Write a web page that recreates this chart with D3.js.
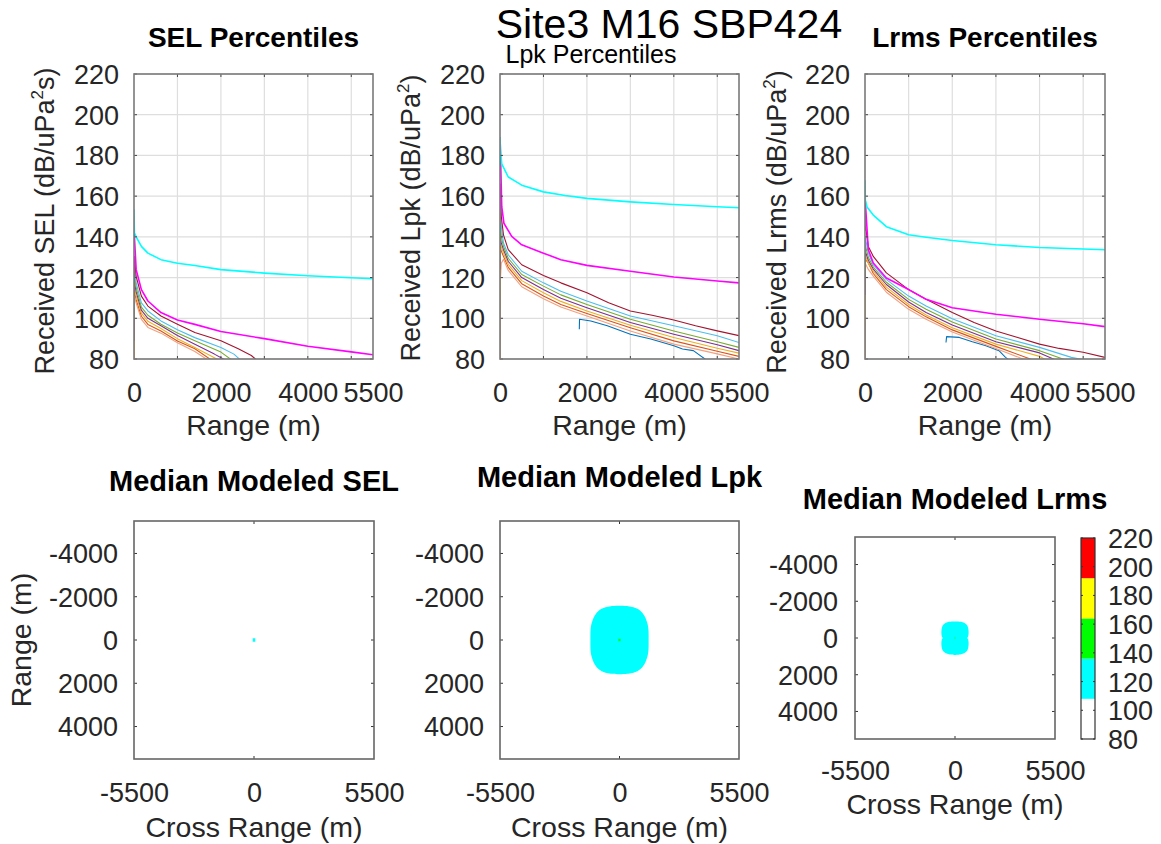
<!DOCTYPE html>
<html><head><meta charset="utf-8">
<script src="https://cdn.jsdelivr.net/npm/d3@7"></script>
<style>body{margin:0;background:#fff;} svg{display:block;}</style>
</head><body>
<script>
// ---------------- DATA ----------------
const rangeLabelTicks = [0, 2000, 4000, 5500];
const rangeGridTicks = [1000, 2000, 3000, 4000, 5000];
const levelTicks = [80, 100, 120, 140, 160, 180, 200, 220];
const crossTicks = [-5500, 0, 5500];
const mapRangeTicks = [-4000, -2000, 0, 2000, 4000];
const colorbarTicks = [80, 100, 120, 140, 160, 180, 200, 220];
const colorbarEdges = [80, 108, 136, 164, 192, 220];
const colorbarColors = ["#ffffff", "#00ffff", "#00ff00", "#ffff00", "#ff0000"];

const seriesNames = ["blue", "orange", "salmon", "yellow", "purple", "green", "lightblue", "darkred", "magenta", "cyan"];
const seriesColors = ["#0072bd", "#d95319", "#f2a07e", "#edb120", "#7e2f8e", "#77ac30", "#4dbeee", "#a2142f", "#ff00ff", "#00ffff"];

// SEL percentiles  [range m, dB]
const selBlue = [];
const selOrange = [[0,76],[8,113],[50,109],[170,101],[320,97],[620,93.8],[1000,88.8],[1400,85],[1780,79.5]];
const selSalmon = [[0,76],[8,111],[50,107.5],[170,99.5],[320,95.5],[620,92.7],[1000,88],[1400,83.7],[1700,79.5]];
const selYellow = [[0,80],[8,115],[50,111],[170,102.5],[320,98.5],[620,95],[1000,90],[1400,85.7],[1950,79.5]];
const selPurple = [[0,89],[8,118],[50,113],[170,104],[320,100],[620,96.3],[1000,91.5],[1400,87.3],[1850,82.4],[2100,79.5]];
const selGreen = [[0,99.5],[8,122],[50,115],[170,105.5],[320,101.5],[620,97.1],[1000,92.8],[1400,89],[2000,83.4],[2250,79.5]];
const selLightBlue = [[0,105],[8,126],[50,117.4],[170,107.6],[320,103.6],[620,98.7],[1000,94.4],[1400,90.5],[2000,85.7],[2300,82.4],[2450,79.5]];
const selDarkRed = [[0,111],[8,130.4],[50,120.6],[170,110.9],[320,106],[620,101.1],[1000,97.1],[1400,93],[2000,89],[2400,85],[2700,81.7],[2820,79.5]];
const selMagenta = [[0,143.7],[50,123.9],[170,114.1],[320,108.5],[620,102.8],[1000,99.2],[1400,97],[2000,93.5],[3000,90],[4000,86.3],[5000,83.5],[5500,82.1]];
const selCyan = [[0,153.5],[10,142],[50,140],[170,135.3],[320,132],[620,128.8],[1000,127],[1400,125.9],[2000,123.9],[3000,122.2],[4000,120.9],[5000,119.9],[5500,119.4]];

// Lpk percentiles
const lpkBlue = [[1825,94.6],[1830,99.5],[2090,98.7],[2470,96.3],[3000,92.2],[3470,89.8],[4000,86.5],[4200,84.9],[4450,84.1],[4750,79.5]];
const lpkOrange = [[0,79],[5,135],[30,133],[80,130.4],[190,125],[500,117],[1000,110.9],[1400,106.8],[2000,102.4],[3000,95.4],[4000,88.9],[5000,83.8],[5500,81.3]];
const lpkSalmon = [[0,79.5],[5,117],[30,127],[80,129],[190,123.5],[500,115.5],[1000,109.6],[1400,105.5],[2000,101.1],[3000,93.8],[4000,87.3],[5000,82.5],[5500,80]];
const lpkYellow = [[0,105.7],[5,137],[30,135],[80,132],[190,126.5],[500,118.5],[1000,112.5],[1400,108.3],[2000,103.6],[3000,96.6],[4000,90.6],[5000,85.3],[5500,82.9]];
const lpkPurple = [[0,124],[5,140],[30,137],[80,133.7],[190,128],[500,120],[1000,114.1],[1400,109.8],[2000,105.2],[3000,97.9],[4000,92.2],[5000,87],[5500,84.1]];
const lpkGreen = [[0,129.5],[5,148],[30,140],[80,135.3],[190,129.5],[500,121.5],[1000,115.8],[1400,111.5],[2000,106.8],[3000,99.5],[4000,93.8],[5000,88.5],[5500,85.7]];
const lpkLightBlue = [[0,148],[5,158],[30,145],[80,137],[190,131.2],[500,123.1],[1000,117.4],[1400,113.3],[2000,108.5],[3000,101.1],[4000,96.3],[5000,91.4],[5500,88.1]];
const lpkDarkRed = [[0,160],[5,166],[30,150],[80,141],[190,133.7],[500,126.3],[1000,121],[1400,117.4],[2000,112.5],[2500,107.6],[3000,103.6],[3500,101.5],[4000,99.2],[4500,96.3],[5000,93.8],[5500,91.5]];
const lpkMagenta = [[0,178],[5,186],[40,154.8],[90,146.7],[270,140.2],[500,136.1],[1000,132],[1400,128.8],[2000,126],[3000,123.1],[4000,120.3],[5000,118.3],[5500,117.4]];
const lpkCyan = [[0,189],[10,183],[40,175.9],[190,169.4],[500,165.4],[1000,162.1],[1500,160.3],[2000,158.9],[3000,157.2],[4000,155.9],[5000,154.8],[5500,154.3]];

// Lrms percentiles
const lrmsBlue = [[1856,88.1],[1870,91],[2160,90.6],[2460,88.5],[2770,86.5],[3070,84.1],[3220,80.8],[3300,79.5]];
const lrmsOrange = [[0,79],[5,129],[76,127.2],[190,122],[490,114.1],[1000,105.7],[1400,100.7],[2000,94.3],[3000,86.2],[3850,79.5]];
const lrmsSalmon = [[0,98],[5,127],[76,124],[190,120.7],[490,112.8],[1000,104.4],[1400,99.5],[2000,93.3],[3000,85.2],[3680,79.5]];
const lrmsYellow = [[0,97.7],[5,131],[76,127],[190,123.1],[490,115.3],[1000,106.8],[1400,101.6],[2000,95.4],[3000,87.3],[4000,81.3],[4150,79.5]];
const lrmsPurple = [[0,111.5],[5,133],[76,128.5],[190,124.2],[490,116.6],[1000,108],[1400,102.8],[2000,96.7],[3000,88.5],[4000,83],[4370,79.5]];
const lrmsGreen = [[0,121.3],[5,136],[76,130],[190,125.2],[490,117.7],[1000,109.3],[1400,104.4],[2000,98.2],[3000,89.8],[4000,84.1],[4600,79.5]];
const lrmsLightBlue = [[0,132],[5,140],[76,132],[190,126.3],[490,119],[1000,110.9],[1400,106],[2000,99.8],[3000,91.4],[4000,85.7],[4730,80.8],[5040,79.5]];
const lrmsDarkRed = [[0,143],[5,146],[76,135.3],[190,130.4],[490,122.3],[1000,114.1],[1400,109.3],[2000,102.8],[2500,97.9],[3000,93.8],[3500,90.6],[4000,87.3],[4450,85.2],[5000,83.3],[5500,80.8]];
const lrmsMagenta = [[0,145],[5,158],[76,133.7],[190,127.2],[490,119.8],[1000,114.1],[1400,109.3],[2000,105.2],[3000,102],[4000,99.5],[5000,97.3],[5500,95.9]];
const lrmsCyan = [[0,167.8],[8,158],[50,154.5],[190,150.7],[490,145],[1000,141],[1400,139.8],[2000,138.2],[3000,136.1],[4000,134.8],[5000,134],[5500,133.7]];

// Median modeled maps: contour of the 108 dB (cyan) region, [range m, half cross-range m]
const selCyanCell = [[-80,60],[80,60]];
const lpkCyanContour = [[-1580,0],[-1560,400],[-1510,640],[-1440,820],[-1330,980],[-1200,1090],[-1050,1180],[-900,1240],[-700,1300],[-450,1335],[-200,1340],[0,1340],[200,1340],[450,1335],[700,1300],[900,1240],[1050,1180],[1200,1090],[1330,980],[1440,820],[1510,640],[1560,400],[1580,0]];
const lpkGreenCell = [[-55,50],[55,50]];
const lrmsCyanContour = [[-900,0],[-880,330],[-830,500],[-750,620],[-620,700],[-450,740],[-200,745],[-60,715],[0,670],[60,715],[200,745],[450,740],[620,700],[750,620],[830,500],[890,330],[930,0]];
const lrmsGreenCell = [[-30,30],[30,30]];

// ---------------- DRAW ----------------
const FONT = "'Liberation Sans', Arial, Helvetica, sans-serif";
const TXT = "#262626";
const svg = d3.select("body").append("svg").attr("width", 1161).attr("height", 844)
  .style("font-family", FONT);
svg.append("rect").attr("width", 1161).attr("height", 844).attr("fill", "#fff");
const defs = svg.append("defs");

function styleAxis(g) {
  g.select(".domain").remove();
  g.selectAll("text").attr("fill", TXT).style("font-size", "27px").style("font-family", FONT);
}

function topPlot(p) {
  const T = 74, B = 359;
  const x = d3.scaleLinear().domain([0, 5500]).range([p.l, p.r]);
  const y = d3.scaleLinear().domain([80, 220]).range([B, T]);
  const g = svg.append("g");
  g.selectAll(".vg").data(rangeGridTicks).join("line")
    .attr("x1", d => x(d)).attr("x2", d => x(d)).attr("y1", T).attr("y2", B)
    .attr("stroke", "#dedede").attr("stroke-width", 1.2);
  g.selectAll(".hg").data(levelTicks).join("line")
    .attr("x1", p.l).attr("x2", p.r).attr("y1", d => y(d)).attr("y2", d => y(d))
    .attr("stroke", "#dedede").attr("stroke-width", 1.2);
  defs.append("clipPath").attr("id", "c" + p.id).append("rect")
    .attr("x", p.l).attr("y", T).attr("width", p.r - p.l).attr("height", B - T);
  const line = d3.line().x(d => x(d[0])).y(d => y(d[1]));
  const cg = g.append("g").attr("clip-path", `url(#c${p.id})`);
  p.curves.forEach((c, i) => {
    if (!c.length) return;
    cg.append("path").attr("d", line(c)).attr("fill", "none")
      .attr("stroke", seriesColors[i]).attr("stroke-width", i >= 8 ? 1.6 : 1.1)
      .attr("stroke-linejoin", "round");
  });
  g.selectAll(".xt").data(rangeGridTicks).join("line")
    .attr("x1", d => x(d)).attr("x2", d => x(d)).attr("y1", B).attr("y2", B - 3).attr("stroke", "#444");
  g.selectAll(".xt2").data(rangeGridTicks).join("line")
    .attr("x1", d => x(d)).attr("x2", d => x(d)).attr("y1", T).attr("y2", T + 3).attr("stroke", "#444");
  g.selectAll(".yt").data(levelTicks).join("line")
    .attr("x1", p.l).attr("x2", p.l + 3).attr("y1", d => y(d)).attr("y2", d => y(d)).attr("stroke", "#444");
  g.selectAll(".yt2").data(levelTicks).join("line")
    .attr("x1", p.r).attr("x2", p.r - 3).attr("y1", d => y(d)).attr("y2", d => y(d)).attr("stroke", "#444");
  g.append("rect").attr("x", p.l).attr("y", T).attr("width", p.r - p.l).attr("height", B - T)
    .attr("fill", "none").attr("stroke", "#7a7a7a").attr("stroke-width", 1.6);
  const ax = g.append("g").attr("transform", `translate(0,${B})`)
    .call(d3.axisBottom(x).tickValues(rangeLabelTicks).tickSize(0).tickFormat(d3.format("d")));
  styleAxis(ax);
  ax.selectAll("text").attr("y", 43).attr("dy", 0);
  const ay = g.append("g").attr("transform", `translate(${p.l},0)`)
    .call(d3.axisLeft(y).tickValues(levelTicks).tickSize(0));
  styleAxis(ay);
  ay.selectAll("text").attr("x", -15).attr("dy", "0.35em");
  g.append("text").attr("x", (p.l + p.r) / 2).attr("y", 435).attr("text-anchor", "middle")
    .style("font-size", "28.5px").attr("fill", TXT).text("Range (m)");
  const yl = g.append("text").attr("transform", `translate(${p.yl[0]},${p.yl[1]}) rotate(-90)`)
    .attr("text-anchor", "middle").style("font-size", "27px").attr("fill", TXT);
  yl.append("tspan").text(p.ylabel[0]);
  yl.append("tspan").attr("dy", -11).style("font-size", "17px").text("2");
  yl.append("tspan").attr("dy", 11).text(p.ylabel[1]);
}

topPlot({id: 1, l: 134, r: 373, yl: [54, 221], ylabel: ["Received SEL (dB/uPa", "s)"],
  curves: [selBlue, selOrange, selSalmon, selYellow, selPurple, selGreen, selLightBlue, selDarkRed, selMagenta, selCyan]});
topPlot({id: 2, l: 500, r: 739, yl: [420, 218], ylabel: ["Received Lpk (dB/uPa", ")"],
  curves: [lpkBlue, lpkOrange, lpkSalmon, lpkYellow, lpkPurple, lpkGreen, lpkLightBlue, lpkDarkRed, lpkMagenta, lpkCyan]});
topPlot({id: 3, l: 865, r: 1105, yl: [786, 222], ylabel: ["Received Lrms (dB/uPa", ")"],
  curves: [lrmsBlue, lrmsOrange, lrmsSalmon, lrmsYellow, lrmsPurple, lrmsGreen, lrmsLightBlue, lrmsDarkRed, lrmsMagenta, lrmsCyan]});

// titles
svg.append("text").attr("x", 669).attr("y", 38).attr("text-anchor", "middle")
  .style("font-size", "41px").attr("fill", "#000").text("Site3 M16 SBP424");
svg.append("text").attr("x", 591).attr("y", 63).attr("text-anchor", "middle")
  .style("font-size", "25px").attr("fill", "#000").text("Lpk Percentiles");
svg.append("text").attr("x", 253.5).attr("y", 47).attr("text-anchor", "middle")
  .style("font-size", "28px").style("font-weight", "bold").attr("fill", "#000").text("SEL Percentiles");
svg.append("text").attr("x", 985).attr("y", 47).attr("text-anchor", "middle")
  .style("font-size", "28px").style("font-weight", "bold").attr("fill", "#000").text("Lrms Percentiles");

function mapPanel(p) {
  const x = d3.scaleLinear().domain([-5500, 5500]).range([p.l, p.r]);
  const y = d3.scaleLinear().domain([-5500, 5500]).range([p.t, p.b]);
  const g = svg.append("g");
  const area = d3.area().curve(d3.curveCatmullRom).y(d => y(d[0])).x0(d => x(-d[1])).x1(d => x(d[1]));
  const areaLin = d3.area().y(d => y(d[0])).x0(d => x(-d[1])).x1(d => x(d[1]));
  p.cells.forEach(c => {
    g.append("path").attr("d", (c.data.length > 2 ? area : areaLin)(c.data)).attr("fill", c.color);
  });
  g.selectAll(".yt").data(mapRangeTicks).join("line")
    .attr("x1", p.l).attr("x2", p.l + 3).attr("y1", d => y(d)).attr("y2", d => y(d)).attr("stroke", "#333");
  g.selectAll(".yt2").data(mapRangeTicks).join("line")
    .attr("x1", p.r).attr("x2", p.r - 3).attr("y1", d => y(d)).attr("y2", d => y(d)).attr("stroke", "#333");
  g.selectAll(".xt").data([0]).join("line")
    .attr("x1", d => x(d)).attr("x2", d => x(d)).attr("y1", p.b).attr("y2", p.b - 3).attr("stroke", "#333");
  g.selectAll(".xt2").data([0]).join("line")
    .attr("x1", d => x(d)).attr("x2", d => x(d)).attr("y1", p.t).attr("y2", p.t + 3).attr("stroke", "#333");
  g.append("rect").attr("x", p.l).attr("y", p.t).attr("width", p.r - p.l).attr("height", p.b - p.t)
    .attr("fill", "none").attr("stroke", "#666").attr("stroke-width", 1.6);
  const ax = g.append("g").attr("transform", `translate(0,${p.b})`)
    .call(d3.axisBottom(x).tickValues(crossTicks).tickSize(0).tickFormat(d3.format("d")));
  styleAxis(ax);
  ax.selectAll("text").attr("y", p.xtb - p.b).attr("dy", 0).text(d => d < 0 ? "-" + Math.abs(d) : d);
  const ay = g.append("g").attr("transform", `translate(${p.l},0)`)
    .call(d3.axisLeft(y).tickValues(mapRangeTicks).tickSize(0));
  styleAxis(ay);
  ay.selectAll("text").attr("x", -p.ypad).attr("dy", "0.35em").text(d => d < 0 ? "-" + Math.abs(d) : d);
  g.append("text").attr("x", (p.l + p.r) / 2).attr("y", p.xlb).attr("text-anchor", "middle")
    .style("font-size", "28.5px").attr("fill", TXT).text("Cross Range (m)");
  g.append("text").attr("x", (p.l + p.r) / 2).attr("y", p.titleY).attr("text-anchor", "middle")
    .style("font-size", "29px").style("font-weight", "bold").attr("fill", "#000").text(p.title);
  if (p.ylab) {
    g.append("text").attr("transform", `translate(31,${(p.t + p.b) / 2}) rotate(-90)`)
      .attr("text-anchor", "middle").style("font-size", "28.5px").attr("fill", TXT).text("Range (m)");
  }
}

mapPanel({l: 134, r: 374, t: 521, b: 759, xtb: 802, xlb: 837, ypad: 16, titleY: 491, ylab: true,
  title: "Median Modeled SEL", cells: [{data: selCyanCell, color: "#00ffff"}]});
mapPanel({l: 500, r: 739, t: 521, b: 759, xtb: 802, xlb: 837, ypad: 16, titleY: 487,
  title: "Median Modeled Lpk", cells: [{data: lpkCyanContour, color: "#00ffff"}, {data: lpkGreenCell, color: "#00ff00"}]});
mapPanel({l: 855, r: 1055, t: 537, b: 739, xtb: 780, xlb: 814, ypad: 17, titleY: 509,
  title: "Median Modeled Lrms", cells: [{data: lrmsCyanContour, color: "#00ffff"}, {data: lrmsGreenCell, color: "#00ff00"}]});

(function () {
  const cb = {l: 1081, r: 1095, t: 538, b: 739};
  const y = d3.scaleLinear().domain([80, 220]).range([cb.b, cb.t]);
  const g = svg.append("g");
  const bands = colorbarColors.map((c, i) => ({c, lo: colorbarEdges[i], hi: colorbarEdges[i + 1]}));
  g.selectAll(".band").data(bands).join("rect")
    .attr("x", cb.l).attr("width", cb.r - cb.l).attr("y", d => y(d.hi)).attr("height", d => y(d.lo) - y(d.hi))
    .attr("fill", d => d.c);
  g.selectAll(".t1").data(colorbarTicks).join("line")
    .attr("x1", cb.l).attr("x2", cb.l + 2).attr("y1", d => y(d)).attr("y2", d => y(d)).attr("stroke", "#333");
  g.selectAll(".t2").data(colorbarTicks).join("line")
    .attr("x1", cb.r).attr("x2", cb.r - 2).attr("y1", d => y(d)).attr("y2", d => y(d)).attr("stroke", "#333");
  g.append("rect").attr("x", cb.l).attr("y", cb.t).attr("width", cb.r - cb.l).attr("height", cb.b - cb.t)
    .attr("fill", "none").attr("stroke", "#333").attr("stroke-width", 1.2);
  const ay = g.append("g").attr("transform", `translate(${cb.r},0)`)
    .call(d3.axisRight(y).tickValues(colorbarTicks).tickSize(0));
  styleAxis(ay);
  ay.selectAll("text").attr("x", 13).attr("dy", "0.35em");
})();
</script>
</body></html>
